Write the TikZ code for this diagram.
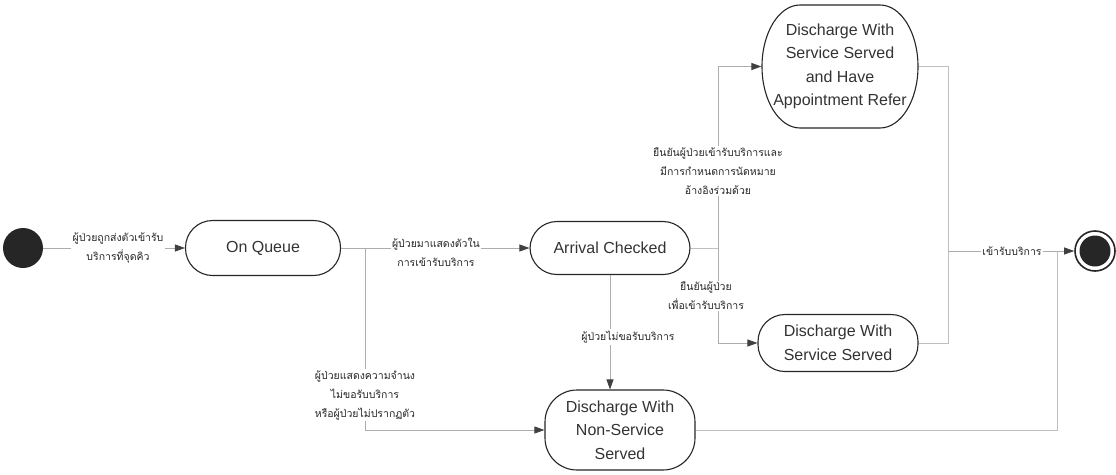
\documentclass[tikz,border=0pt]{standalone}
\usepackage{fontspec}
\usetikzlibrary{arrows.meta}
\newfontfamily\sansfnt{Liberation Sans}
\newfontfamily\thaifnt[Script=Thai]{Loma}
\begin{document}
\begin{tikzpicture}[x=1pt,y=-1pt,
  state/.style={draw=black!85, line width=1.1pt, fill=white, rounded corners=#1,
    inner sep=0pt, align=center, text=black!80,
    font=\sansfnt\fontsize{16}{23.5}\selectfont},
  conn/.style={draw=black!32, line width=0.8pt,
    -{Triangle[length=10pt,width=7pt,color=black!75]}},
  link/.style={draw=black!25, line width=0.8pt},
  lbl/.style={fill=white, inner sep=1.5pt, align=center, text=black!85,
    font=\thaifnt\fontsize{10.5}{19}\selectfont}]
\useasboundingbox (0,0) rectangle (1116,474);

% initial and final states
\node[circle, fill=black!85, minimum size=40pt, inner sep=0pt] (start) at (23,248) {};
\node[circle, draw=black!85, line width=1.6pt, fill=white, minimum size=40pt, inner sep=0pt] (end) at (1095,251) {};
\node[circle, fill=black!85, minimum size=31pt, inner sep=0pt] (endin) at (1095,251) {};

% outline of the appointment state: short flat top and bottom, elliptic sides
\draw[black!85, line width=1.1pt, fill=white]
  (800,5) -- (880,5) arc[start angle=-90, end angle=90, x radius=38, y radius=61.5]
  -- (800,128) arc[start angle=90, end angle=270, x radius=38, y radius=61.5] -- cycle;

% states
\node[state=27pt, minimum width=155pt, minimum height=55pt] (queue) at (263,248) {On Queue};
\node[state=27pt, minimum width=160pt, minimum height=53pt] (arrival) at (610,248) {Arrival Checked};
\node[state=0pt, draw=none, fill=none, minimum width=156pt, minimum height=123pt] (appt) at (840,66.5)
  {Discharge With\\Service Served\\and Have\\Appointment Refer};
\node[state=27pt, minimum width=160pt, minimum height=57pt] (served) at (838,343)
  {Discharge With\\Service Served};
\node[state=32pt, minimum width=150pt, minimum height=80pt] (nonserv) at (620,430)
  {Discharge With\\Non-Service\\Served};

% junction points
\coordinate (qj) at (365,248);
\coordinate (aj) at (718,248);
\coordinate (ej) at (948,251);
\coordinate (nj) at (1057,251);

% transitions
\draw[conn] (start) -- (queue.west);
\draw[conn] (queue.east) -- (arrival.west);
\draw[conn] (qj) |- (nonserv.west);
\draw[conn] (arrival.south) -- (arrival.south |- nonserv.north);
\draw[link] (arrival.east) -- (aj);
\draw[conn] (aj) |- (appt.west);
\draw[conn] (aj) |- (served.west);
\draw[link] (appt.east) -| (ej);
\draw[link] (served.east) -| (ej);
\draw[link] (nonserv.east) -| (nj);
\draw[conn] (ej) -- (end.west);

% transition labels
\node[lbl] at (118,248) {ผู้ป่วยถูกส่งตัวเข้ารับ\\บริการที่จุดคิว};
\node[lbl] at (436,252) {ผู้ป่วยมาแสดงตัวใน\\การเข้ารับบริการ};
\node[lbl] at (365,395) {ผู้ป่วยแสดงความจำนง\\ไม่ขอรับบริการ\\หรือผู้ป่วยไม่ปรากฏตัว};
\node[lbl] at (628,337) {ผู้ป่วยไม่ขอรับบริการ};
\node[lbl] at (718,171) {ยืนยันผู้ป่วยเข้ารับบริการและ\\มีการกำหนดการนัดหมาย\\อ้างอิงร่วมด้วย};
\node[lbl] at (706,296) {ยืนยันผู้ป่วย\\เพื่อเข้ารับบริการ};
\node[lbl] at (1012,251) {เข้ารับบริการ};
\end{tikzpicture}
\end{document}
